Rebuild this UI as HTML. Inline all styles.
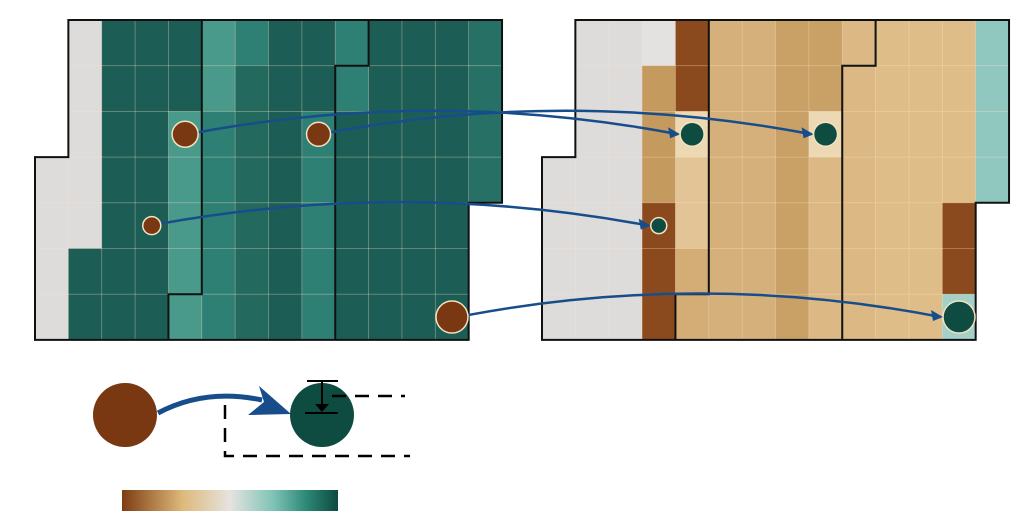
<!DOCTYPE html>
<html><head><meta charset="utf-8"><style>
html,body{margin:0;padding:0;background:#fff;}
svg{display:block;font-family:"Liberation Sans",sans-serif;}
</style></head><body>
<svg id="fig" width="1021" height="517" viewBox="0 0 1021 517" xmlns="http://www.w3.org/2000/svg">
<g id="left"></g>
<g id="right"></g>
<g id="arrows"></g>
<g id="circles"></g>
<g>
  <circle cx="125" cy="415" r="32" fill="#7a3812"/>
  <path d="M158,413 Q205,388 262,400" stroke="#174d8a" stroke-width="5" fill="none"/>
  <polygon points="259,386 291,414 248,415 264,402" fill="#174d8a"/>
  <circle cx="322" cy="415" r="32" fill="#0e4c42"/>
  <g stroke="#000" stroke-width="2">
    <line x1="307" y1="381" x2="338" y2="381"/><line x1="322" y1="381" x2="322" y2="407"/>
    <line x1="305" y1="413" x2="338" y2="413"/>
  </g>
  <polygon points="315,404 329,404 322,412" fill="#000"/>
  <path d="M332,396 H405 M225,405 V456 H410" stroke="#000" stroke-width="2.5" stroke-dasharray="14,9" fill="none"/>
  <defs><linearGradient id="cb" x1="0" x2="1">
    <stop offset="0" stop-color="#7e3d12"/><stop offset="0.28" stop-color="#ddb97a"/>
    <stop offset="0.5" stop-color="#e6e3e0"/><stop offset="0.7" stop-color="#7fc3b6"/>
    <stop offset="0.85" stop-color="#2e8a78"/><stop offset="1" stop-color="#0d4a40"/></linearGradient></defs>
  <rect x="122" y="490" width="216" height="21" fill="url(#cb)"/>
</g>
</svg>
<script>
const palette={'.':null,g:'#dedbdb',D:'#1c5e55',d:'#23695e',m:'#2f8074',L:'#4a9a8c',T:'#277065',
 b:'#8b4a1e',t:'#c49a5e',p:'#ecd9b4',q:'#e2c497',s:'#d4ad76',u:'#d6b07a',v:'#c9a066',w:'#dbb884',x:'#dfbd88',c:'#a3d0c8',e:'#90c8c0',h:'#e4e1e1'};
const leftRows=[
 '.gDDDLmDDmDDDT',
 '.gDDDLdDDmDDDT',
 '.gDDLmdDmDDDDT',
 'ggDDLmdDmDDDDT',
 'ggDDLmdDmDDDD.',
 'gDDDLmdDmDDDD.',
 'gDDDLmdDmDDDD.'];
const rightRows=[
 '.gghbuuvvwxxxe',
 '.ggtbuuvvwxxxe',
 '.ggtpuuvpwxxxe',
 'gggtquuvwwxxxe',
 'gggbquuvwwxxb.',
 'gggbsuuvwwxxb.',
 'gggbsuuvwwxxc.'];
const leftCircles=[[4,2,13],[8,2,12],[3,4,9],[12,6,16]];
const rightCircles=[[4,2,12],[8,2,12],[3,4,8],[12,6,16]];
const X0L=35, X0R=542, Y0=20, CW=33.36, RH=45.7;
const NS='http://www.w3.org/2000/svg';
function mk(t,a,p){const e=document.createElementNS(NS,t);for(const k in a)e.setAttribute(k,a[k]);p.appendChild(e);return e;}
function cx(x0,c){return x0+c*CW;} function ry(r){return Y0+r*RH;}
function drawGrid(id,rows,x0){
 const g=document.getElementById(id);
 rows.forEach((row,r)=>{[...row].forEach((k,c)=>{const col=palette[k];if(!col)return;
  const el=mk('rect',{x:cx(x0,c),y:ry(r),width:CW+0.3,height:RH+0.3,fill:col,stroke:'rgba(255,230,200,0.35)','stroke-width':0.8},g);
  
  
 });});
 const o=x0;const P=(c,r)=>cx(o,c)+','+ry(r);
 const outer=mk('path',{d:'M'+P(1,0)+' L'+P(14,0)+' L'+P(14,4)+' L'+P(13,4)+' L'+P(13,7)+' L'+P(0,7)+' L'+P(0,3)+' L'+P(1,3)+' Z',fill:'none',stroke:'#111','stroke-width':2},g);
 
 
 const r1=mk('path',{d:'M'+P(5,0)+' L'+P(5,6)+' L'+P(4,6)+' L'+P(4,7),fill:'none',stroke:'#111','stroke-width':2},g);
 
 
 const r2=mk('path',{d:'M'+P(10,0)+' L'+P(10,1)+' L'+P(9,1)+' L'+P(9,7),fill:'none',stroke:'#111','stroke-width':2},g);
 
 
}
drawGrid('left',leftRows,X0L);drawGrid('right',rightRows,X0R);
const cg=document.getElementById('circles'),ag=document.getElementById('arrows');
leftCircles.forEach((lc,i)=>{
 const rc=rightCircles[i];
 const x1=cx(X0L,lc[0])+CW/2,y1=ry(lc[1])+RH/2,x2=cx(X0R,rc[0])+CW/2,y2=ry(rc[1])+RH/2;
 const sx=x1+lc[2],ex=x2-rc[2]-2;
 const a=mk('path',{d:`M${sx},${y1-2} Q${(sx+ex)/2},${y1-46} ${ex},${y2}`,fill:'none',stroke:'#174d8a','stroke-width':2.5},ag);
 
 
 const h=mk('polygon',{points:`${ex+2},${y2} ${ex-10},${y2-7} ${ex-8},${y2+4}`,fill:'#174d8a'},ag);
 
 
 const c1=mk('circle',{cx:x1,cy:y1,r:lc[2],fill:'#7a3812',stroke:'#f3e2c0','stroke-width':1.5},cg);
 
 
 const c2=mk('circle',{cx:x2,cy:y2,r:rc[2],fill:'#0e4c42',stroke:'#f3e2c0','stroke-width':1.5},cg);
 
 
});
</script>
</body></html>
